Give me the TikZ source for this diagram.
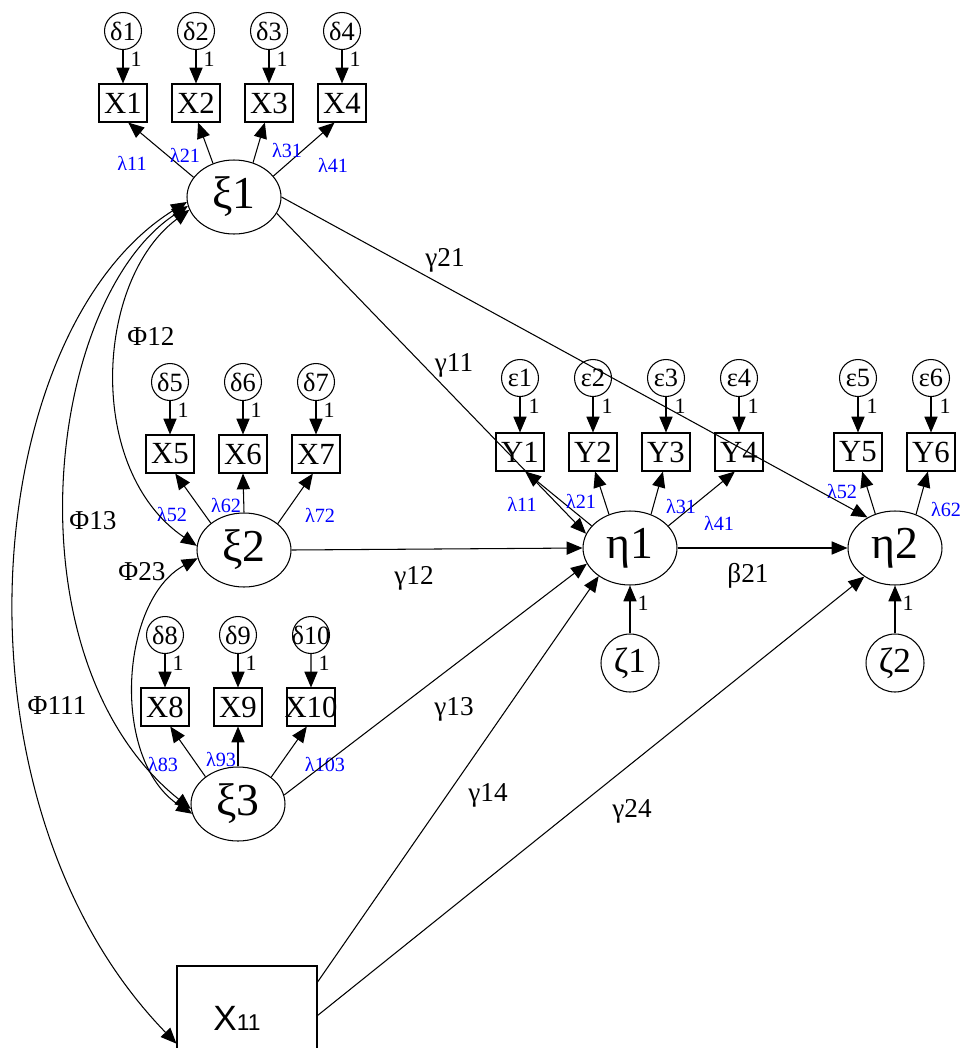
\documentclass[tikz,border=0pt]{standalone}
\usepackage{fontspec}
\setmainfont{Liberation Serif}
\newfontfamily\sansx{Liberation Sans}
\usetikzlibrary{arrows.meta,shapes.geometric}
\tikzset{
  tip/.style={-{Triangle[length=9pt,width=7.5pt]}},
  both/.style={{Triangle[length=9pt,width=7.5pt]}-{Triangle[length=9pt,width=7.5pt]}},
  obs/.style={draw,rectangle,inner xsep=-1.5pt,inner ysep=0pt,minimum width=0.96cm,minimum height=0.76cm,font=\fontsize{17.5}{17.5}\selectfont},
  err/.style={draw,circle,inner sep=-2pt,minimum size=0.74cm,font=\fontsize{15}{15}\selectfont},
  lat/.style={draw,ellipse,inner sep=0pt,minimum width=1.88cm,minimum height=1.48cm,font=\fontsize{26}{26}\selectfont},
  dist/.style={draw,circle,inner sep=0pt,minimum size=1.16cm,font=\fontsize{20}{20}\selectfont},
  one/.style={inner sep=0pt,font=\fontsize{12.5}{12.5}\selectfont},
  lam/.style={inner sep=0pt,text=blue,font=\fontsize{11.5}{11.5}\selectfont},
  coef/.style={inner sep=0pt,font=\fontsize{15.5}{15.5}\selectfont},
}
\begin{document}
\begin{tikzpicture}[x=0.02cm,y=-0.02cm,line width=0.6pt]
\useasboundingbox (0,0) rectangle (962,1048);
\clip (0,0) rectangle (962,1048);

\node[lat] (xi1) at (234,197) {ξ1};
\node[lat] (xi2) at (244,550) {ξ2};
\node[lat] (xi3) at (238,804) {ξ3};
\node[lat] (eta1) at (630,548) {η1};
\node[lat] (eta2) at (895,548) {η2};
\node[dist] (z1) at (630,663) {ζ1};
\node[dist] (z2) at (895,663) {ζ2};
\node[draw,rectangle,inner sep=0pt,minimum width=2.8cm,minimum height=2.08cm] (x11) at (247,1018)
  {\sansx\fontsize{20}{20}\selectfont X\fontsize{13}{13}\selectfont 11\hspace*{0.4cm}};

\foreach \n/\x/\y in {1/123/31,2/196/31,3/269/31,4/342/31,5/170/382,6/243/382,7/316/382,8/165/635,9/238/635,10/311/635}{
  \node[err] (d\n) at (\x,\y) {δ\n};
  \node[obs] (x\n) at (\x,\y+72) {X\n};
  \draw[tip] (d\n) -- (x\n);
  \node[one] (wd\n) at (\x+13,\y+28) {1};
}
\foreach \n/\x in {1/520,2/593,3/666,4/739,5/858,6/931}{
  \node[err] (e\n) at (\x,378) {ε\n};
  \node[obs] (y\n) at (\x,452) {Y\n};
  \draw[tip] (e\n) -- (y\n);
  \node[one] (we\n) at (\x+14,406) {1};
}

\foreach \s/\a/\t/\b in {xi1/154/x1/-75,xi1/122/x2/-84,xi1/61/x3/-102,xi1/28/x4/-111,
    xi2/141/x5/-75,xi2/90/x6/-90,xi2/38/x7/-99,
    xi3/140/x8/-75,xi3/90/x9/-90,xi3/39/x10/-102,
    eta1/150/y1/-75,eta1/122/y2/-84,eta1/58/y3/-99,eta1/30/y4/-102,
    eta2/120/y5/-78,eta2/58/y6/-99}
  \draw[tip] (\s.\a) -- (\t.\b);

\foreach \n/\t/\x/\y in {a/11/132/163,b/21/185/155,c/31/287/150,d/41/333/165,
    e/52/172/514,f/62/226/505,g/72/320/515,
    h/83/163/764,i/93/221/759,j/103/325/764,
    k/11/522/504,l/21/581/501,m/31/681/506,n/41/719/523,
    o/52/842/491,p/62/946/509}
  \node[lam] (lam\n) at (\x,\y) {λ\t};

\draw[tip] (xi1.-21) -- (eta1.162);
\draw[tip] (xi1.east) -- (eta2.132);
\draw[tip] (xi2.east) -- (eta1.west);
\draw[tip] (xi3.11) -- (eta1.200);
\draw[tip] (x11.27) -- (eta1.222);
\draw[tip] (x11.2) -- (eta2.223);
\draw[tip] (eta1.east) -- (eta2.west);
\draw[tip] (z1) -- (eta1);
\draw[tip] (z2) -- (eta2);
\node[one] (wz1) at (643,603) {1};
\node[one] (wz2) at (908,603) {1};

\draw[both] (xi1.196) .. controls (95,280) and (85,470) .. (xi2.175);
\draw[both] (xi1.191) .. controls (45,300) and (5,660) .. (xi3.186);
\draw[both] (xi2.190) .. controls (120,600) and (110,760) .. (xi3.192);
\draw[both] (xi1.186) .. controls (-20,330) and (-60,800) .. (x11.200);

\node[coef] (phi12) at (151,336) {Φ12};
\node[coef] (phi13) at (93,521) {Φ13};
\node[coef] (phi23) at (142,572) {Φ23};
\node[coef] (phi111) at (57,706) {Φ111};
\node[coef] (g21) at (445,260) {γ21};
\node[coef] (g11) at (454,365) {γ11};
\node[coef] (g12) at (414,578) {γ12};
\node[coef] (g13) at (454,709) {γ13};
\node[coef] (g14) at (488,795) {γ14};
\node[coef] (g24) at (632,811) {γ24};
\node[coef] (b21) at (748,576) {β21};
\end{tikzpicture}
\end{document}
